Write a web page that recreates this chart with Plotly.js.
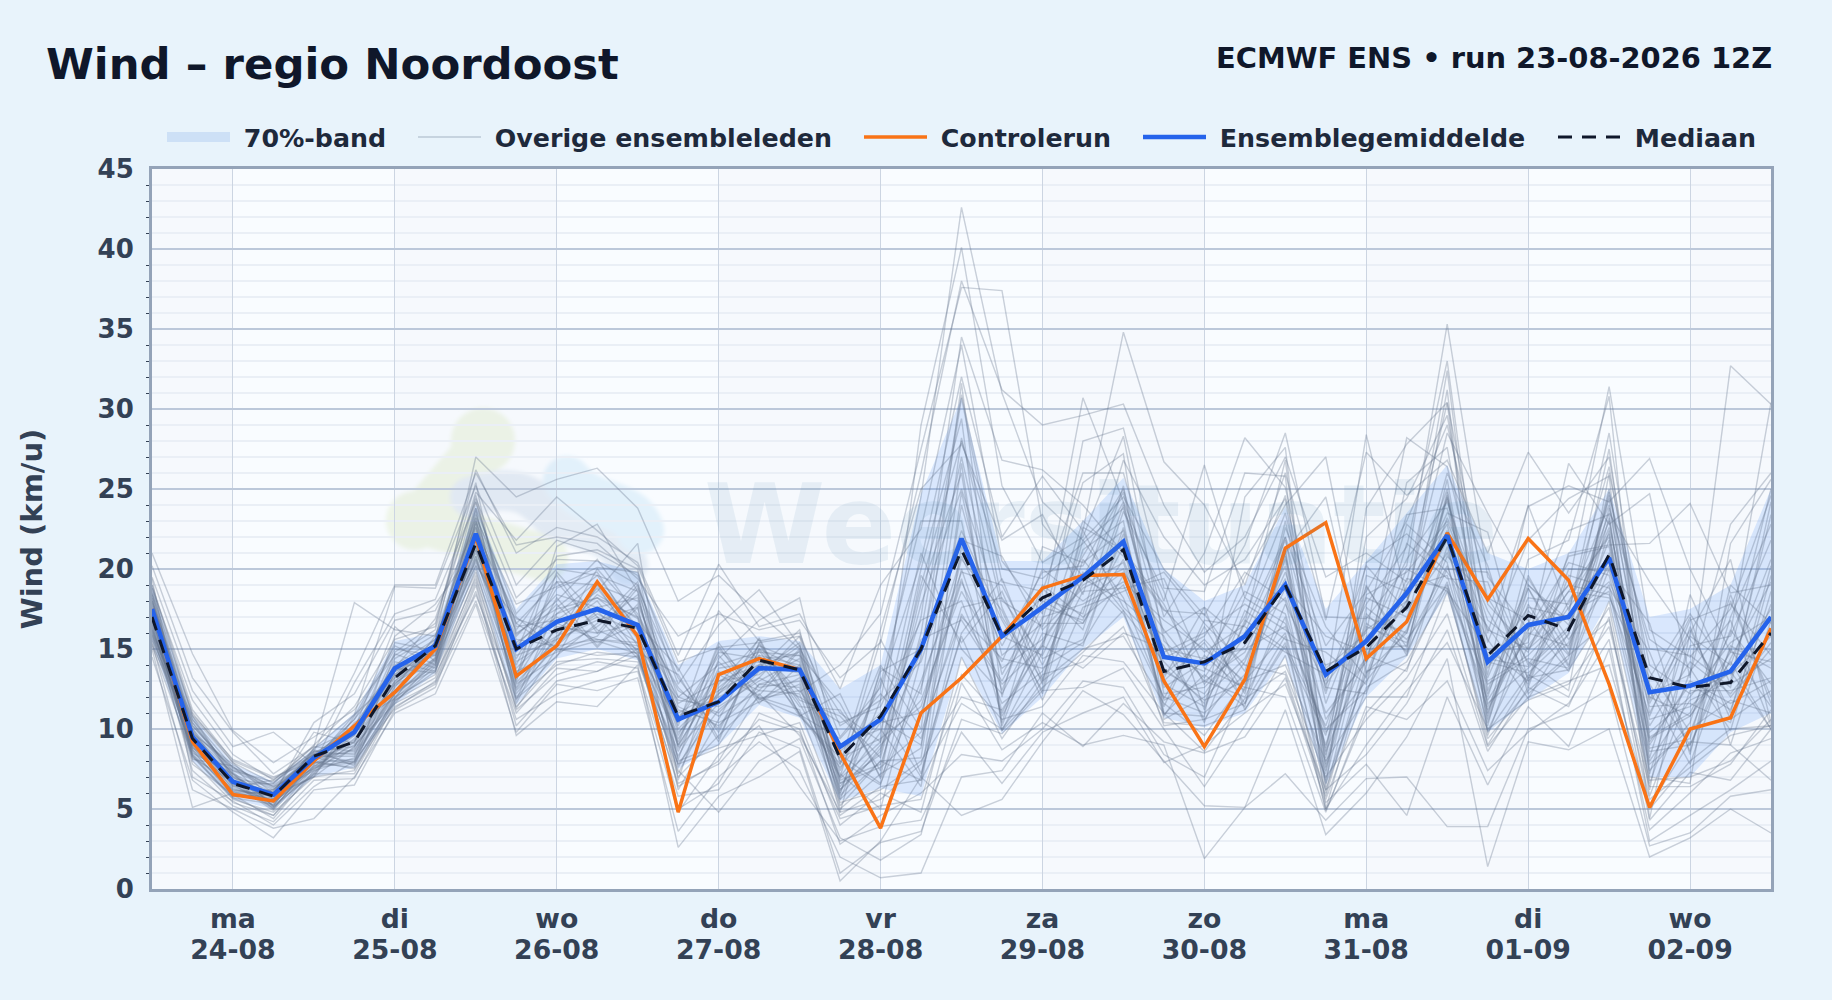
<!DOCTYPE html>
<html><head><meta charset="utf-8">
<script src="https://cdn.plot.ly/plotly-3.0.1.min.js"></script>
<style>html,body{margin:0;padding:0;background:#e8f3fb}#chart{width:1832px;height:1000px}</style>
</head><body><div id="chart"></div>
<script>
const dayTicks=['2026-08-24','2026-08-25','2026-08-26','2026-08-27','2026-08-28','2026-08-29','2026-08-30','2026-08-31','2026-09-01','2026-09-02'];
const dayNames=['ma','di','wo','do','vr','za','zo','ma','di','wo'];
const dayDates=['24-08','25-08','26-08','27-08','28-08','29-08','30-08','31-08','01-09','02-09'];
const control=[17.5,9.2,5.9,5.5,8.0,10.2,12.3,15.0,22.0,13.3,15.2,19.2,15.8,4.8,13.4,14.4,13.7,8.5,3.8,11.0,13.2,15.8,18.8,19.6,19.65,13.0,8.9,13.1,21.3,22.9,14.4,16.7,22.25,18.1,21.9,19.3,12.8,5.1,10.0,10.7,16.3];
const mean=[17.5,9.5,6.7,5.9,8.2,9.8,13.8,15.2,22.2,15.0,16.7,17.5,16.5,10.6,11.7,13.8,13.7,8.9,10.6,15.0,21.9,15.8,17.6,19.5,21.7,14.5,14.1,15.8,19.0,13.4,15.5,18.5,22.1,14.2,16.5,17.0,20.7,12.3,12.7,13.6,17.0];
const median=[17.0,9.4,6.6,5.8,8.3,9.2,13.2,15.2,21.6,15.0,16.2,16.8,16.3,10.8,11.7,14.3,13.7,8.2,10.8,15.0,21.2,15.8,18.2,19.3,21.2,13.6,14.2,15.4,19.0,13.6,15.1,17.6,22.0,14.6,17.1,16.2,20.9,13.2,12.6,12.9,16.0];
const bandUpper=[19,10.8,7.8,6.7,8.8,11,15.5,16,24,17.5,20.3,20.5,19.8,14,15.5,15.8,15.5,12.5,14,24.7,30.7,20.5,20.5,23,25.7,20,18,19,23.9,17.5,20.5,23.5,26.5,21,20,21,25,17,17.5,19,25];
const bandLower=[15.5,8,5.6,5,7,7.6,11.5,13.5,20,11.5,14.4,15,14.3,7.5,9,11.5,10.7,5.5,6.3,5.8,14.5,9.7,12,15,17,10.7,10.1,11,14.5,6.5,12,14.5,18.5,9.8,11.8,13.5,18,7,7,9.8,11];
const m01=[21.0,14.7,9.9,7.9,9.5,11.2,14.6,16.2,24.8,21.8,24.5,22.4,20.2,14.2,15.1,15.4,15.8,10.2,11.8,24.5,42.6,31.0,24.2,21.8,24.5,20.0,17.1,21.5,28.5,17.0,16.9,20.2,35.3,19.5,16.2,19.0,31.4,16.2,14.5,17.5,24.6];
const m02=[20.2,13.2,9.8,7.2,8.9,17.9,16.2,15.8,23.2,17.8,18.9,20.1,19.8,12.8,16.5,18.7,15.2,6.9,9.2,29.0,40.1,25.2,20.4,22.0,28.3,15.5,13.2,17.0,23.5,13.0,17.8,21.4,33.0,14.2,13.5,15.9,27.5,9.5,11.0,16.0,30.4];
const m03=[19.5,12.4,8.9,9.8,7.8,12.9,17.2,18.1,24.2,16.0,17.5,18.2,17.0,9.8,12.2,15.0,12.3,14.0,17.2,27.5,37.6,37.4,22.8,19.5,24.2,13.4,15.6,12.8,20.8,10.6,14.5,17.8,32.4,12.4,18.8,14.7,24.8,11.6,16.2,11.0,20.2];
const m04=[18.8,11.8,8.4,6.8,8.6,13.5,19.0,19.0,26.0,21.5,22.0,21.6,19.4,15.8,17.2,16.2,16.8,13.2,15.4,26.0,38.0,31.2,29.0,29.6,30.3,24.0,19.8,22.0,27.0,19.5,21.0,19.2,30.4,17.8,15.0,17.2,28.5,12.8,9.0,14.4,19.2];
const m05=[19.0,11.2,8.0,6.9,8.4,10.2,14.0,15.6,27.0,24.5,25.6,26.3,23.8,18.0,19.6,17.2,15.0,11.0,9.2,17.0,34.5,26.8,26.2,24.0,21.0,17.5,14.8,16.5,22.0,15.2,18.6,23.0,29.0,18.2,14.2,12.4,26.0,14.0,12.2,13.5,17.5];
const m06=[18.5,11.0,7.9,6.6,9.0,11.4,15.6,16.4,26.2,21.0,22.6,22.0,20.4,14.6,20.3,16.4,17.2,12.5,19.0,22.5,34.0,20.5,17.2,30.7,24.2,18.0,26.5,18.2,24.6,12.4,28.4,18.2,28.5,23.5,19.0,16.5,23.5,19.2,15.6,12.0,15.0];
const m07=[18.0,10.9,8.1,7.0,8.0,10.9,18.9,18.8,25.2,19.0,21.8,21.0,19.6,13.6,18.5,15.5,16.0,9.5,12.6,20.5,32.0,22.0,25.8,22.4,34.8,26.7,24.0,19.0,26.0,16.8,27.3,24.6,26.8,21.0,27.3,23.5,27.0,12.2,13.4,22.8,26.0];
const m08=[17.8,10.6,7.6,6.4,8.2,10.6,13.8,16.9,24.4,18.2,20.6,20.5,19.0,12.0,14.0,14.8,14.6,8.0,6.5,16.0,30.9,19.2,18.6,26.0,26.0,17.0,21.0,28.2,25.1,13.8,16.0,28.2,26.4,16.0,23.9,25.2,24.2,26.9,20.0,14.8,14.2];
const m09=[17.5,10.2,7.4,6.2,8.4,9.6,13.2,15.4,23.8,17.2,20.0,19.6,18.6,11.6,13.0,14.0,13.5,7.2,5.0,14.5,30.7,18.0,16.4,20.8,25.0,16.0,17.6,15.5,21.0,24.5,13.5,16.0,24.5,14.6,15.4,26.6,22.8,24.7,13.2,32.7,30.3];
const m10=[17.2,10.0,7.2,6.0,8.0,9.2,12.8,14.9,23.0,16.6,19.2,19.0,18.0,11.0,12.4,15.2,14.2,6.6,8.4,19.0,28.0,20.0,19.4,21.6,23.8,14.6,13.6,19.5,24.0,27.0,14.2,18.0,23.5,22.3,13.0,21.0,21.5,21.6,24.1,18.5,19.0];
const m11=[16.9,9.1,6.3,5.5,7.9,8.1,12.2,14.2,21.4,12.5,15.8,18.4,16.9,8.9,13.4,12.1,14.9,6.0,13.2,7.2,16.0,19.4,13.1,21.8,18.2,11.9,16.4,12.2,21.2,7.4,18.9,15.1,24.8,10.6,18.8,14.0,23.2,8.2,16.4,10.6,12.4];
const m12=[15.8,10.4,7.3,5.2,7.2,10.4,11.9,15.4,23.4,16.6,14.9,15.8,18.8,13.2,9.8,14.9,11.4,11.2,7.4,18.6,26.0,10.4,18.8,16.2,23.6,18.6,11.2,17.4,15.6,14.8,12.8,21.6,19.4,19.2,12.6,19.6,18.8,14.8,8.6,17.0,22.8];
const m13=[18.2,8.6,6.0,6.1,8.5,7.9,14.7,13.8,20.6,14.0,19.2,16.2,15.0,10.4,14.6,11.8,13.2,7.0,10.4,11.0,19.2,13.8,15.6,19.0,20.4,12.6,14.2,18.6,17.2,9.0,16.6,14.9,25.6,11.4,16.2,20.4,19.6,10.2,14.2,12.2,15.4];
const m14=[16.2,9.8,7.6,6.4,7.5,9.4,13.0,14.8,22.6,11.8,17.6,19.6,16.2,12.0,11.0,13.6,15.4,5.8,8.8,14.8,22.4,16.8,12.4,22.4,17.6,15.2,10.6,14.2,19.8,12.2,20.2,17.4,21.0,15.6,11.9,16.0,24.4,7.4,10.4,18.4,11.6];
const m15=[17.6,8.2,6.7,5.0,8.1,8.7,12.6,15.8,21.0,15.6,15.2,17.4,14.6,8.3,12.8,15.6,10.9,9.4,12.2,9.4,17.6,18.2,14.4,15.6,22.2,10.9,13.4,11.4,22.6,16.4,13.2,19.4,18.8,12.8,14.4,13.8,20.6,12.4,7.8,15.2,13.8];
const m16=[18.6,9.3,5.8,5.9,7.0,10.8,15.2,14.0,23.6,13.4,18.2,15.2,17.8,11.4,10.2,12.8,12.6,6.4,9.8,21.0,15.0,12.2,17.0,17.8,19.2,16.8,15.0,13.0,16.0,6.8,17.0,16.0,23.2,17.4,13.2,18.0,22.2,9.2,12.8,11.2,17.8];
const m17=[15.6,10.0,6.5,6.6,8.7,7.7,13.6,15.0,20.2,16.9,16.0,18.8,15.6,9.2,15.2,11.6,14.0,8.4,6.6,12.6,20.8,15.2,19.8,20.2,24.8,13.6,12.2,15.8,18.2,11.0,14.2,22.8,20.4,10.2,19.6,15.0,25.0,11.0,15.8,14.0,20.6];
const m18=[17.3,9.6,7.0,5.4,7.7,9.0,11.6,14.4,22.0,12.0,14.6,16.6,19.2,10.8,12.0,13.2,12.0,10.4,11.4,16.8,18.0,11.6,13.6,18.6,18.8,19.4,13.8,12.6,20.6,8.2,19.6,18.6,22.2,13.8,17.6,17.0,19.2,13.6,9.8,16.2,12.8];
const m19=[16.5,8.9,6.1,6.2,8.3,8.3,14.2,13.6,23.0,15.0,17.0,15.4,16.6,13.8,9.4,15.0,13.8,5.6,8.0,8.2,24.0,14.6,16.6,16.6,21.4,11.4,16.8,16.4,14.8,13.4,15.4,20.6,24.2,16.8,14.8,20.8,21.4,8.0,11.8,13.0,23.4];
const m20=[15.9,10.6,7.1,5.6,8.8,10.0,12.4,15.2,21.6,13.0,19.8,17.0,14.4,8.6,13.8,14.2,11.0,7.8,14.0,10.0,28.2,17.6,12.2,20.6,17.4,14.2,11.6,18.2,16.6,10.0,12.4,16.8,26.0,20.2,12.2,14.4,23.8,15.6,13.8,9.9,18.6];
const m21=[18.4,9.0,6.8,6.0,7.4,9.8,13.4,15.6,20.8,14.6,15.6,20.0,17.2,12.4,10.8,12.4,15.0,6.8,7.8,15.6,16.8,12.8,15.2,23.0,20.8,17.4,17.2,13.6,22.0,7.8,17.6,15.6,19.0,11.8,15.8,19.0,18.4,10.8,16.8,17.8,14.6];
const m22=[16.7,8.4,5.7,5.3,7.9,7.6,11.7,13.9,22.8,11.6,16.6,15.6,15.4,9.6,14.2,11.9,12.4,9.0,10.0,6.4,21.4,16.0,18.2,17.2,25.2,12.2,12.6,15.2,19.0,15.8,14.8,23.4,23.8,14.4,13.9,16.4,22.6,12.0,10.8,14.8,25.0];
const m23=[17.9,10.2,7.5,6.3,8.0,10.6,15.0,14.6,21.2,15.8,18.4,17.6,18.2,10.0,12.6,14.6,10.8,12.2,6.9,13.0,19.8,19.0,14.0,19.4,18.0,15.8,10.4,16.8,15.0,9.6,19.0,14.6,20.8,18.2,16.8,13.6,20.0,16.6,8.4,19.0,16.6];
const m24=[15.7,9.4,6.2,5.8,8.6,8.9,12.9,14.4,23.8,12.8,14.5,19.0,15.2,11.8,11.4,13.0,14.4,7.4,12.8,23.0,23.0,11.0,16.0,15.2,22.6,13.0,15.4,11.6,17.8,12.8,16.2,18.0,25.0,12.2,18.2,17.8,24.0,9.0,13.0,11.6,13.0];
const m25=[17.1,8.1,7.7,5.1,7.3,9.2,14.4,15.9,20.4,15.2,17.8,15.1,17.6,8.1,15.0,12.6,13.0,6.2,9.0,11.8,18.6,14.2,20.0,18.0,19.8,16.2,13.0,14.8,20.2,6.6,13.4,20.0,18.6,15.0,13.0,15.4,21.8,7.2,15.2,15.8,21.8];
const m26=[16.0,10.8,6.9,6.5,8.2,7.8,11.9,14.1,22.2,13.8,16.2,18.0,14.8,13.4,9.2,15.4,11.8,10.8,8.2,17.8,25.0,17.0,13.0,21.2,23.0,10.8,14.6,12.4,23.0,11.6,18.2,17.0,21.8,9.9,15.2,18.6,18.2,13.2,17.2,13.4,15.8];
const m27=[18.8,9.9,6.4,5.5,7.1,10.2,13.8,13.5,21.8,16.2,19.6,16.0,19.0,9.0,13.0,13.4,15.2,8.6,11.0,7.0,17.2,13.0,17.6,16.8,24.0,14.8,16.0,17.8,16.2,14.0,15.0,15.2,24.4,13.2,19.0,16.8,23.0,8.8,9.4,18.0,12.0];
const m28=[15.5,8.8,7.4,6.7,8.4,8.5,12.2,15.5,23.2,12.2,15.4,17.2,16.0,11.2,10.4,11.7,12.8,5.9,13.6,15.0,27.0,15.8,14.6,19.8,17.2,12.0,11.0,13.4,18.8,8.8,20.4,22.2,19.8,16.4,12.8,20.0,19.9,11.4,11.6,10.4,19.6];
const m29=[17.4,9.2,5.9,5.7,7.6,9.6,15.4,14.9,20.6,14.4,18.8,19.8,15.8,10.6,14.8,14.4,14.6,11.6,7.0,19.6,15.4,18.6,12.8,22.6,21.2,17.8,12.8,16.0,21.8,12.6,12.2,19.0,22.8,11.0,17.4,14.6,24.6,15.0,14.6,12.6,24.2];
const m30=[16.3,8.5,7.2,5.2,8.8,10.9,13.2,14.7,22.4,17.0,15.0,16.4,18.4,8.8,11.6,15.7,10.9,7.6,10.6,9.0,20.0,12.4,19.0,17.0,19.0,13.2,17.6,11.2,15.2,10.2,17.2,14.8,20.0,19.8,14.0,17.6,20.8,9.8,12.0,15.4,17.0];
const m31=[15.0,5.1,6.0,5.6,8.0,7.5,11.4,12.8,18.0,11.0,13.8,13.6,14.6,7.4,4.8,8.0,9.4,3.2,1.8,3.4,12.9,8.7,10.4,9.0,9.6,9.0,1.9,5.1,11.2,3.4,6.0,9.5,14.4,1.4,9.2,8.7,10.0,2.0,3.2,5.0,3.5];
const m32=[14.5,6.8,4.8,3.2,6.2,6.5,11.2,12.6,19.0,9.6,11.7,11.4,14.0,2.6,5.8,7.0,8.6,0.5,3.0,7.0,4.6,5.6,9.2,12.4,10.9,8.0,5.2,5.1,7.2,4.3,6.9,7.0,3.9,3.9,10.0,11.0,12.5,2.7,3.5,5.8,6.2];
const m33=[15.4,6.2,5.0,3.8,4.4,7.0,11.0,12.2,17.8,9.8,12.8,12.4,13.2,3.6,7.0,9.2,7.4,2.0,0.7,1.0,7.0,7.4,11.0,8.9,11.6,9.2,8.5,9.5,13.2,5.4,7.8,4.6,12.0,6.5,11.4,8.9,15.0,3.7,6.0,8.5,9.4];
const m34=[16.6,7.4,5.2,4.2,6.8,6.9,11.6,12.9,18.6,10.6,12.2,13.0,13.6,4.8,8.4,10.2,6.4,3.0,3.9,4.3,9.8,6.6,9.8,11.0,12.0,7.9,9.0,11.0,12.8,6.2,8.4,11.6,16.2,8.6,12.6,11.4,17.0,4.3,7.3,6.8,10.0];
const m35=[17.0,8.0,5.4,4.6,7.2,7.2,11.8,13.2,19.6,11.2,13.4,14.2,13.8,5.8,6.2,9.8,8.8,1.0,2.9,3.6,10.6,9.7,12.4,12.6,13.8,10.0,6.4,10.2,14.6,5.0,9.0,12.4,15.4,10.0,11.8,12.8,16.4,6.4,6.4,7.8,11.2];
const m36=[18.2,8.3,5.6,4.8,7.0,7.4,12.0,13.4,18.4,11.9,14.0,14.8,14.5,6.6,7.8,10.6,9.8,4.4,5.2,5.6,13.4,10.6,11.4,14.6,14.2,11.0,8.6,11.9,13.6,7.0,10.6,13.2,17.2,8.9,12.0,13.0,14.0,5.2,9.2,9.0,6.8];
const m37=[19.4,7.0,5.5,4.0,6.4,8.0,11.3,13.0,19.2,10.2,13.0,13.6,15.0,5.0,6.6,11.0,10.0,2.8,4.6,6.0,8.4,8.0,10.0,13.0,12.6,8.4,7.0,12.6,12.0,4.8,11.4,10.6,13.0,7.4,9.8,11.6,15.6,3.0,4.6,6.2,8.0];
const m38=[16.1,7.8,5.9,4.4,7.4,8.2,12.4,13.7,20.0,11.4,14.2,14.4,14.2,7.8,8.8,9.6,10.4,4.0,6.0,4.8,14.5,9.4,13.0,15.0,15.8,11.6,9.6,13.0,14.0,8.0,12.0,12.0,18.6,9.8,13.4,12.0,18.0,6.8,7.0,8.0,10.6];
const m39=[16.8,8.7,6.6,4.9,7.7,8.0,12.7,14.3,19.8,12.4,15.2,15.6,15.2,7.0,9.6,12.0,11.2,4.6,6.4,6.8,11.6,10.0,13.4,14.2,16.4,10.4,10.2,11.2,15.4,5.6,12.6,14.2,18.8,9.4,12.4,14.6,16.8,5.6,7.6,9.6,10.2];
const m40=[17.7,9.5,6.4,6.8,8.9,8.6,13.0,15.0,24.6,14.8,20.8,21.2,20.0,8.0,9.0,12.8,13.4,5.0,7.2,8.8,26.6,10.2,16.8,25.4,27.2,11.0,10.8,24.5,27.6,6.4,23.8,27.8,30.4,10.8,20.6,21.8,30.8,7.0,6.6,21.6,25.6];
const m41=[15.3,9.7,7.8,6.0,9.8,9.1,14.8,16.6,25.4,13.2,21.4,22.8,18.6,7.6,12.4,13.8,16.2,6.2,8.6,20.0,29.4,9.9,14.8,28.0,28.8,18.8,18.6,26.0,25.8,5.0,14.0,25.4,27.6,13.4,24.0,17.4,26.4,11.8,17.0,9.0,16.8];
const m42=[18.0,10.4,7.0,5.9,10.4,12.2,16.8,17.4,22.6,16.4,16.8,18.6,21.6,6.8,14.4,16.8,18.2,7.8,16.2,25.0,27.8,21.8,23.4,18.4,26.8,22.0,19.0,20.6,24.4,8.4,22.0,24.4,29.6,15.4,21.8,24.4,25.8,4.4,16.0,20.6,10.4];
const m43=[16.4,8.9,6.1,5.4,7.5,8.8,15.8,17.8,21.4,15.4,17.2,19.2,16.4,10.2,17.4,14.2,13.6,4.8,13.8,12.2,31.6,12.0,21.4,20.4,22.4,12.8,11.4,16.6,26.8,7.6,15.8,17.6,31.2,9.6,16.6,22.4,23.4,6.2,18.4,12.8,14.4];
const m44=[17.5,9.0,6.7,5.2,8.5,9.9,13.6,14.6,20.2,12.9,15.6,16.8,17.6,6.2,10.6,15.3,11.6,7.0,15.6,10.8,20.6,17.4,11.8,17.6,18.6,19.8,16.6,14.0,13.4,5.8,14.6,13.6,21.4,12.0,19.4,15.6,19.0,8.6,9.0,15.0,11.4];
const m45=[15.9,8.7,5.8,6.2,8.6,8.4,12.0,14.5,22.1,13.6,14.8,15.5,14.7,9.4,13.6,12.4,12.2,5.4,6.2,8.0,12.0,11.2,15.2,13.8,16.0,15.0,14.4,15.0,16.4,9.8,13.0,16.2,22.4,11.6,13.8,16.2,20.2,10.6,11.4,13.6,10.0];
const m46=[19.0,10.8,7.9,5.6,8.2,10.0,16.4,14.2,24.2,15.9,18.0,20.6,17.0,12.6,10.0,14.6,14.0,5.6,11.8,14.2,21.8,20.8,16.2,18.8,20.0,14.4,15.8,19.8,18.0,7.2,18.4,19.8,23.0,16.2,15.0,18.6,22.0,6.6,13.6,16.8,10.2];
const m47=[16.2,9.3,6.5,5.1,7.8,9.3,12.8,15.3,21.2,14.2,15.8,17.0,15.4,7.8,11.2,13.2,15.8,6.6,7.6,9.8,17.0,14.4,13.8,15.4,19.6,11.8,13.0,12.0,17.0,6.0,16.4,15.4,20.2,13.0,14.6,17.2,18.6,7.8,10.0,11.8,11.0];
const m48=[17.0,8.4,6.2,5.8,7.0,8.9,12.2,14.0,20.8,12.6,16.4,16.0,16.6,9.0,15.4,11.9,10.8,8.2,9.4,11.4,19.4,10.8,15.4,19.2,21.8,10.6,12.0,14.4,19.4,8.6,14.6,18.8,19.6,11.2,16.0,15.2,21.0,9.4,10.8,14.2,10.0];
const m49=[18.4,9.7,7.2,5.0,8.0,9.7,13.4,15.1,22.9,13.1,17.2,18.2,16.2,7.2,12.2,14.0,14.8,5.2,8.0,6.8,24.8,13.4,18.0,16.6,20.6,13.8,11.8,13.0,21.0,6.2,13.6,14.6,24.6,10.4,17.8,13.9,22.4,5.8,12.4,12.4,13.2];
const m50=[15.2,8.3,5.7,4.6,7.6,7.9,11.8,13.6,19.4,11.3,15.0,14.6,14.8,6.4,8.0,12.2,9.6,4.8,5.6,7.8,15.8,9.9,12.6,14.8,17.4,10.2,10.6,11.6,15.8,4.9,11.0,13.8,19.2,9.0,13.2,13.7,17.6,5.0,8.0,10.0,10.2];
const members=[m01,m02,m03,m04,m05,m06,m07,m08,m09,m10,m11,m12,m13,m14,m15,m16,m17,m18,m19,m20,m21,m22,m23,m24,m25,m26,m27,m28,m29,m30,m31,m32,m33,m34,m35,m36,m37,m38,m39,m40,m41,m42,m43,m44,m45,m46,m47,m48,m49,m50];

const start=Date.UTC(2026,7,23,12);
const times=control.map((_,i)=>new Date(start+i*6*3600*1000).toISOString().slice(0,16).replace('T',' '));
const FONT='"DejaVu Sans", sans-serif';
const range=[times[0],times[times.length-1]];
const NB='\u00a0';
const traces=[];
traces.push({x:times.concat(times.slice().reverse()),y:bandUpper.concat(bandLower.slice().reverse()),mode:'lines',fill:'toself',fillcolor:'rgba(59,130,246,0.17)',line:{width:0,color:'rgba(59,130,246,0)'},name:'70%-band band',showlegend:false,hoverinfo:'skip'});
traces.push({x:[null],y:[null],xaxis:'x2',mode:'lines',line:{color:'#cde0f6',width:26},name:NB+'70%-band',legend:'legend',hoverinfo:'skip'});
members.forEach((m,k)=>traces.push({x:times,y:m,mode:'lines',line:{color:'rgba(100,116,139,0.33)',width:1.4},name:NB+'Overige ensembleleden',legend:'legend2',legendgroup:'m',showlegend:k===0,hoverinfo:'skip'}));
traces.push({x:times,y:control,mode:'lines',line:{color:'#f97316',width:3.5},name:NB+'Controlerun',legend:'legend3'});
traces.push({x:times,y:mean,mode:'lines',line:{color:'#2563eb',width:4.6},name:NB+'Ensemblegemiddelde',legend:'legend4'});
traces.push({x:times,y:median,mode:'lines',line:{color:'#0f172a',width:3,dash:'14px,10px'},name:NB+'Mediaan',legend:'legend5'});

const logo='<svg xmlns="http://www.w3.org/2000/svg" width="1619" height="720" viewBox="152 169 1619 720"><defs><filter id="b" filterUnits="userSpaceOnUse" x="152" y="169" width="1619" height="720"><feGaussianBlur stdDeviation="2"/></filter></defs><g fill="none" stroke-linecap="round" stroke-linejoin="round" filter="url(#b)"><path d="M483 440L483 441" stroke="#eef5e8" stroke-width="64"/><path d="M415 520L415 521" stroke="#eef5e8" stroke-width="58"/><path d="M483 440L415 520" stroke="#eef5e8" stroke-width="40"/><path d="M415 520L545 558" stroke="#eef5e8" stroke-width="46"/><path d="M470 497C520 480 535 500 550 515C580 535 615 530 628 565" stroke="#e4ecf5" stroke-width="40"/><path d="M567 480C590 510 630 500 640 530" stroke="#e2f1fb" stroke-width="48"/></g></svg>';
const shades=[['2026-08-23 12:00','2026-08-24'],['2026-08-25','2026-08-26'],['2026-08-27','2026-08-28'],['2026-08-29','2026-08-30'],['2026-08-31','2026-09-01'],['2026-09-02','2026-09-02 12:00']];
const legendAt=px=>({orientation:'h',x:(px-5-152)/1619,xanchor:'left',y:1+(169-137)/720,yanchor:'middle',bgcolor:'rgba(0,0,0,0)',itemwidth:63,font:{family:FONT,size:25.3,weight:700,color:'#1e293b'}});

const layout={
 width:1832,height:1000,paper_bgcolor:'#e8f3fb',plot_bgcolor:'#f9fcff',
 margin:{l:152,r:61,t:169,b:111,pad:0},
 font:{family:FONT,color:'#334155'},
 title:{text:'Wind – regio Noordoost',x:46/1832,xanchor:'left',y:1-64/1000,yanchor:'middle',font:{family:FONT,size:43.4,weight:700,color:'#0f172a'}},
 showlegend:true,
 legend:legendAt(167),legend2:legendAt(418),legend3:legendAt(864),legend4:legendAt(1143),legend5:legendAt(1558),
 xaxis:{type:'date',range:range,tickmode:'array',tickvals:dayTicks,ticktext:dayNames,tickangle:0,ticks:'',ticklabelstandoff:4,showgrid:true,gridcolor:'#ccd5e2',gridwidth:1,showline:true,linecolor:'#94a3b8',linewidth:3,mirror:true,zeroline:false,tickfont:{family:FONT,size:26.7,weight:700,color:'#334155'}},
 xaxis2:{type:'date',overlaying:'x',anchor:'y',side:'bottom',range:range,tickmode:'array',tickvals:dayTicks,ticktext:dayDates,tickangle:0,ticks:'',ticklabelstandoff:42,showgrid:false,showline:false,zeroline:false,tickfont:{family:FONT,size:26.7,weight:700,color:'#334155'}},
 yaxis:{range:[0,45],tickmode:'linear',tick0:0,dtick:5,ticks:'',ticklabelstandoff:10,showgrid:true,gridcolor:'#bcc8da',gridwidth:2.5,showline:true,linecolor:'#94a3b8',linewidth:3,mirror:true,zeroline:false,tickfont:{family:FONT,size:26,weight:700,color:'#334155'},
  title:{text:'Wind (km/u)',font:{family:FONT,size:29,weight:700,color:'#334155'},standoff:47},
  minor:{dtick:1,showgrid:true,gridcolor:'#eaeff6',gridwidth:2,ticks:'outside',ticklen:3,tickcolor:'#334155',tickwidth:1}},
 shapes:shades.map(s=>({type:'rect',layer:'below',xref:'x',yref:'paper',x0:s[0],x1:s[1],y0:0,y1:1,fillcolor:'rgba(148,163,184,0.03)',line:{width:0}})),
 images:[{source:'data:image/svg+xml;utf8,'+encodeURIComponent(logo),xref:'paper',yref:'paper',x:0,y:1,sizex:1,sizey:1,xanchor:'left',yanchor:'top',sizing:'stretch',layer:'below'}],
 annotations:[
  {text:'ECMWF ENS • run 23-08-2026 12Z',xref:'paper',yref:'paper',x:1,xanchor:'right',xshift:3,y:1+(169-57.5)/720,yanchor:'middle',showarrow:false,font:{family:FONT,size:28.9,weight:700,color:'#0f172a'}},
  {text:'Weersituatie',xref:'paper',yref:'paper',x:(702-152)/1619,xanchor:'left',y:1-(525-169)/720,yanchor:'middle',showarrow:false,opacity:0.09,font:{family:FONT,size:110,weight:700,color:'#4682aa'}}
 ]
};
Plotly.newPlot('chart',traces,layout,{displayModeBar:false,staticPlot:true});
</script></body></html>
